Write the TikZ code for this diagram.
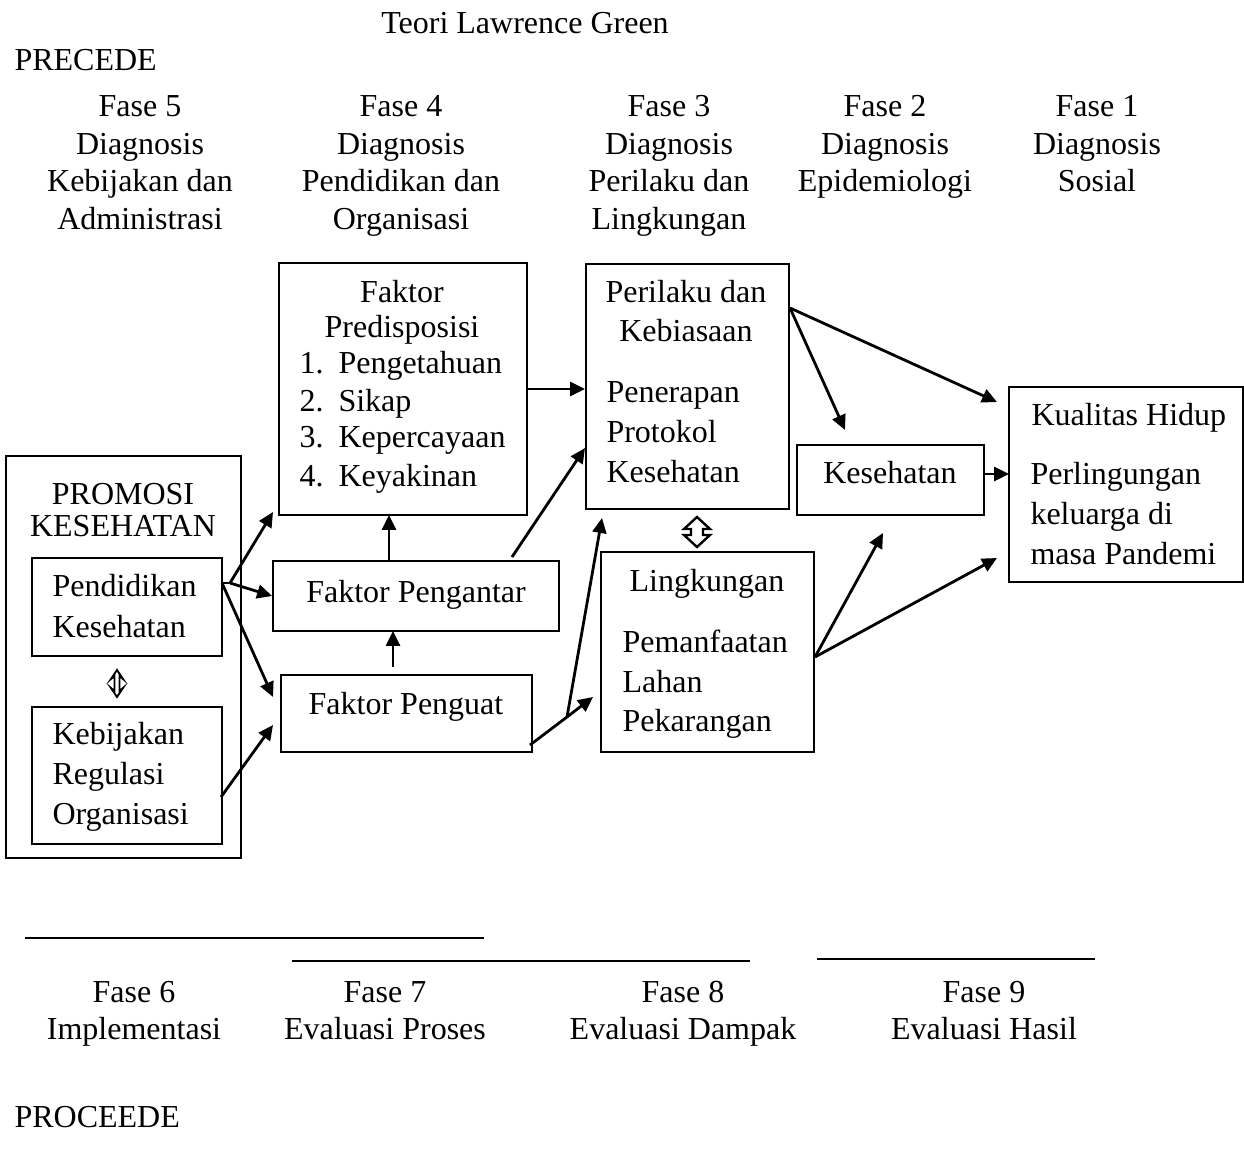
\documentclass[tikz,border=0pt]{standalone}
\usepackage{fontspec}
\setmainfont{Liberation Serif}
\usetikzlibrary{arrows.meta,fit}
\newcommand{\tikztextm}[4]{\node (#1) at (#2, #3) {\vphantom{/}\smash{#4}};}
\newcommand{\tikztextl}[4]{\node (#1) at (#2, #3) [anchor = west] {\vphantom{/}\smash{#4}};}

\begin{document}
\begin{tikzpicture}[x = 0.375pt, y = -0.375pt,   % 1 Einheit = 1 Pixel
    every node/.style = {inner sep = 0pt, font = \fontsize{12pt}{14pt}\selectfont},
    kotak/.style = {draw, line width = 0.7pt, inner sep = 0pt},
    panah/.style = {line width = 1.05pt, -{Triangle[length = 5.6pt, width = 5.2pt]}},
    garis/.style = {line width = 0.8pt}]
  % Bounding box
  \useasboundingbox (0, 0) rectangle (1244, 1150);
  % Titel
  \tikztextm{judul}{525}{23}{Teori Lawrence Green}
  \tikztextl{precede}{14}{60}{PRECEDE}
  % Fasen oben
  \tikztextm{f5a}{140}{106}{Fase 5}
  \tikztextm{f5b}{140}{144}{Diagnosis}
  \tikztextm{f5c}{140}{181}{Kebijakan dan}
  \tikztextm{f5d}{140}{219}{Administrasi}
  \tikztextm{f4a}{401}{106}{Fase 4}
  \tikztextm{f4b}{401}{144}{Diagnosis}
  \tikztextm{f4c}{401}{181}{Pendidikan dan}
  \tikztextm{f4d}{401}{219}{Organisasi}
  \tikztextm{f3a}{669}{106}{Fase 3}
  \tikztextm{f3b}{669}{144}{Diagnosis}
  \tikztextm{f3c}{669}{181}{Perilaku dan}
  \tikztextm{f3d}{669}{219}{Lingkungan}
  \tikztextm{f2a}{885}{106}{Fase 2}
  \tikztextm{f2b}{885}{144}{Diagnosis}
  \tikztextm{f2c}{885}{181}{Epidemiologi}
  \tikztextm{f1a}{1097}{106}{Fase 1}
  \tikztextm{f1b}{1097}{144}{Diagnosis}
  \tikztextm{f1c}{1097}{181}{Sosial}
  % Promosi Kesehatan
  \node (promosi) [kotak, fit = {(6, 456) (241, 858)}] {};
  \tikztextm{promosia}{123}{494}{PROMOSI}
  \tikztextm{promosib}{123}{526}{KESEHATAN}
  \node (pendidikan) [kotak, fit = {(32, 558) (222, 656)}] {};
  \tikztextl{pendidikana}{52}{586}{Pendidikan}
  \tikztextl{pendidikanb}{52}{627}{Kesehatan}
  \node (kebijakan) [kotak, fit = {(32, 707) (222, 844)}] {};
  \tikztextl{kebijakana}{52}{734}{Kebijakan}
  \tikztextl{kebijakanb}{52}{774}{Regulasi}
  \tikztextl{kebijakanc}{52}{814}{Organisasi}
  % Doppelpfeil Pendidikan - Kebijakan
  \draw [line width = 0.7pt, line join = miter] (117, 670) -- (123, 679) -- (119.5, 676) -- (119.5, 691)
    -- (123, 688) -- (117, 697) -- (111, 688) -- (114.5, 691) -- (114.5, 676) -- (111, 679) -- cycle;
  % Faktor Predisposisi
  \node (predis) [kotak, fit = {(279, 263) (527, 515)}] {};
  \tikztextm{predisa}{402}{292}{Faktor}
  \tikztextm{predisb}{402}{327}{Predisposisi}
  \tikztextl{predisn1}{299}{363}{1.}
  \tikztextl{predisn2}{299}{401}{2.}
  \tikztextl{predisn3}{299}{437}{3.}
  \tikztextl{predisn4}{299}{476}{4.}
  \tikztextl{predis1}{338}{363}{Pengetahuan}
  \tikztextl{predis2}{338}{401}{Sikap}
  \tikztextl{predis3}{338}{437}{Kepercayaan}
  \tikztextl{predis4}{338}{476}{Keyakinan}
  % Faktor Pengantar und Penguat
  \node (pengantar) [kotak, fit = {(273, 561) (559, 631)}] {};
  \tikztextm{pengantart}{416}{592}{Faktor Pengantar}
  \node (penguat) [kotak, fit = {(281, 675) (532, 752)}] {};
  \tikztextm{penguatt}{406}{704}{Faktor Penguat}
  % Perilaku
  \node (perilaku) [kotak, fit = {(586, 264) (789, 509)}] {};
  \tikztextm{perilakua}{686}{292}{Perilaku dan}
  \tikztextm{perilakub}{686}{331}{Kebiasaan}
  \tikztextl{perilakuc}{606}{392}{Penerapan}
  \tikztextl{perilakud}{606}{432}{Protokol}
  \tikztextl{perilakue}{606}{472}{Kesehatan}
  % Lingkungan
  \node (lingkungan) [kotak, fit = {(601, 552) (814, 752)}] {};
  \tikztextm{lingkungana}{707}{581}{Lingkungan}
  \tikztextl{lingkunganb}{622}{642}{Pemanfaatan}
  \tikztextl{lingkunganc}{622}{682}{Lahan}
  \tikztextl{lingkungand}{622}{721}{Pekarangan}
  % Kesehatan
  \node (kesehatan) [kotak, fit = {(797, 445) (984, 515)}] {};
  \tikztextm{kesehatant}{890}{473}{Kesehatan}
  % Kualitas Hidup
  \node (kualitas) [kotak, fit = {(1009, 387) (1243, 582)}] {};
  \tikztextl{kualitasa}{1031}{415}{Kualitas Hidup}
  \tikztextl{kualitasb}{1030}{474}{Perlingungan}
  \tikztextl{kualitasc}{1030}{514}{keluarga di}
  \tikztextl{kualitasd}{1030}{554}{masa Pandemi}
  % Hilfspunkte
  \coordinate (j1) at (230, 583);
  \coordinate (pendidikano) at (222, 583);
  \coordinate (predisu) at (273, 512);
  \coordinate (penguatl1) at (273, 697);
  \coordinate (kebijakano) at (221, 797);
  \coordinate (penguatl2) at (273, 725);
  \coordinate (pengantaro) at (512, 557);
  \coordinate (perilakul) at (585, 448);
  \coordinate (j2) at (567, 717);
  \coordinate (penguato) at (530, 745);
  \coordinate (lingkunganl) at (593, 697);
  \coordinate (perilakuu) at (602, 518);
  \coordinate (perilakuo) at (790, 308);
  \coordinate (kesehatano) at (845, 430);
  \coordinate (kualitasl1) at (997, 402);
  \coordinate (lingkungano) at (815, 657);
  \coordinate (kesehatanu) at (883, 533);
  \coordinate (kualitasl2) at (997, 558);
  % Pfeile links
  \draw [line width = 1.05pt] (pendidikano) -- (j1);
  \draw [panah] (j1) -- (predisu);
  \draw [panah] (j1) -- (pengantar.west);
  \draw [panah] (pendidikano) -- (penguatl1);
  \draw [panah] (kebijakano) -- (penguatl2);
  % Pfeile Mitte
  \draw [panah] (predis.east) -- (predis.east -| perilaku.west);
  \draw [panah] (pengantaro) -- (perilakul);
  \draw [panah] (389, 561) -- (389, 515);
  \draw [panah] (393, 667) -- (393, 631);
  \draw [line width = 1.05pt] (penguato) -- (j2);
  \draw [panah] (j2) -- (lingkunganl);
  \draw [panah] (j2) -- (perilakuu);
  % Doppelpfeil Perilaku - Lingkungan
  \draw [line width = 0.9pt, fill = white] (697, 517) -- (710, 529) -- (703, 529) -- (703, 535)
    -- (710, 535) -- (697, 547) -- (684, 535) -- (691, 535) -- (691, 529) -- (684, 529) -- cycle;
  % Pfeile rechts
  \draw [panah] (perilakuo) -- (kesehatano);
  \draw [panah] (perilakuo) -- (kualitasl1);
  \draw [panah] (984, 474) -- (1009, 474);
  \draw [panah] (lingkungano) -- (kesehatanu);
  \draw [panah] (lingkungano) -- (kualitasl2);
  % Linien unten
  \draw [garis] (25, 938) -- (484, 938);
  \draw [garis] (292, 961) -- (750, 961);
  \draw [garis] (817, 959) -- (1095, 959);
  % Fasen unten
  \tikztextm{f6a}{134}{992}{Fase 6}
  \tikztextm{f6b}{134}{1029}{Implementasi}
  \tikztextm{f7a}{385}{992}{Fase 7}
  \tikztextm{f7b}{385}{1029}{Evaluasi Proses}
  \tikztextm{f8a}{683}{992}{Fase 8}
  \tikztextm{f8b}{683}{1029}{Evaluasi Dampak}
  \tikztextm{f9a}{984}{992}{Fase 9}
  \tikztextm{f9b}{984}{1029}{Evaluasi Hasil}
  \tikztextl{proceede}{14}{1117}{PROCEEDE}
\end{tikzpicture}
\end{document}
